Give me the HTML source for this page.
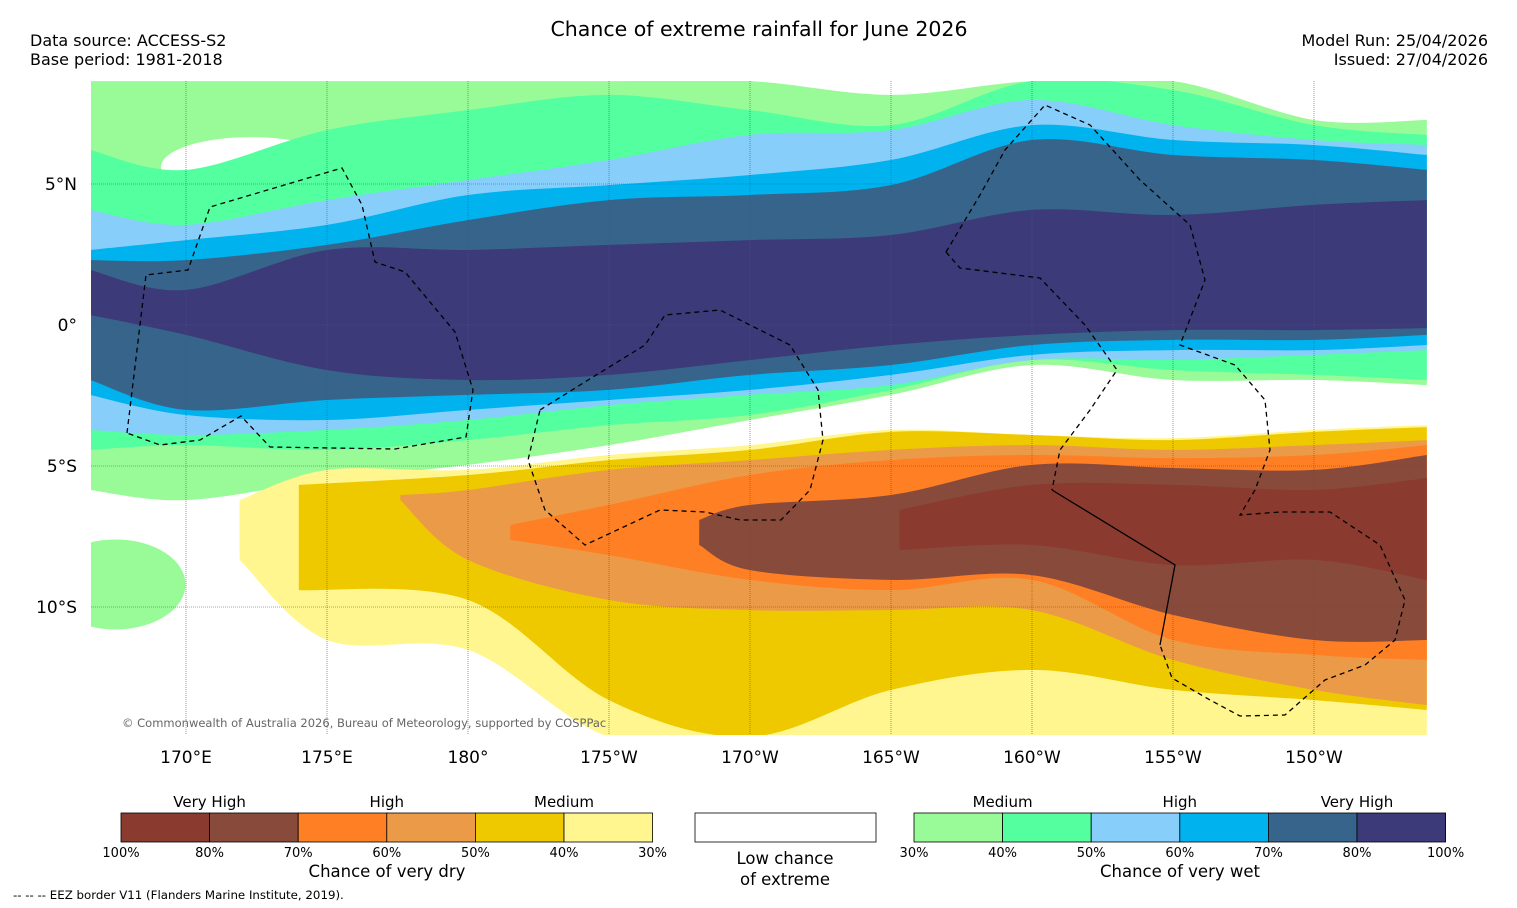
<!DOCTYPE html>
<html><head><meta charset="utf-8"><style>
body{margin:0;background:#fff;width:1517px;height:908px;overflow:hidden;font-family:"DejaVu Sans","Liberation Sans",sans-serif;}
svg{position:absolute;left:0;top:0}
</style></head><body>
<svg id="c" width="1517" height="908" font-family="DejaVu Sans, Liberation Sans, sans-serif">
<text x="759" y="36" text-anchor="middle" font-size="20.5">Chance of extreme rainfall for June 2026</text>
<text x="30" y="46" font-size="16">Data source: ACCESS-S2</text>
<text x="30" y="65" font-size="16">Base period: 1981-2018</text>
<text x="1488" y="46" font-size="16" text-anchor="end">Model Run: 25/04/2026</text>
<text x="1488" y="65" font-size="16" text-anchor="end">Issued: 27/04/2026</text>
<defs><clipPath id="mc"><rect x="91" y="81" width="1336" height="654"/></clipPath></defs>
<g id="map" clip-path="url(#mc)"><rect x="91" y="81" width="1336" height="654" fill="#fff"/></g>
<g id="grid"></g>
<g id="eez" fill="none" stroke="#000" stroke-width="1.3" stroke-dasharray="5,4">
<path d="M127,433 L146,275 L188,270 L210,207 L342,168 L362,205 L375,262 L405,272 L455,332 L473,390 L466,437 L395,449 L270,447 L241,416 L200,440 L160,445 Z"/>
<path d="M540,410 L580,385 L645,345 L665,315 L720,310 L790,345 L818,390 L823,440 L810,490 L781,520 L740,520 L705,512 L660,510 L585,545 L545,510 L528,460 Z"/>
<path d="M946,252 L980,195 L1005,150 L1045,105 L1090,125 L1140,180 L1190,225 L1205,280 L1180,345 L1235,365 L1265,400 L1270,450 L1255,490 L1240,515 L1280,512 L1330,512 L1380,545 L1405,600 L1395,640 L1365,665 L1325,680 L1285,715 L1240,716 L1210,700 L1172,678 L1160,645"/>
<path d="M946,252 L960,268 L1040,278 L1085,325 L1117,370 L1090,410 L1060,450 L1052,490"/>
<path d="M1052,490 L1175,565 L1160,645" stroke-dasharray="none"/>
</g>
<text x="122" y="727" font-size="11.5" fill="#666">© Commonwealth of Australia 2026, Bureau of Meteorology, supported by COSPPac</text>
<g id="axes" font-size="17"></g>
<g id="legend" font-size="14"></g>
<text x="387" y="877" text-anchor="middle" font-size="16.5">Chance of very dry</text>
<text x="785" y="864" text-anchor="middle" font-size="16.5">Low chance</text>
<text x="785" y="885" text-anchor="middle" font-size="16.5">of extreme</text>
<text x="1180" y="877" text-anchor="middle" font-size="16.5">Chance of very wet</text>
<text x="13" y="899" font-size="11.8">--  --  -- EEZ border V11 (Flanders Marine Institute, 2019).</text>
</svg>
<script>
const wetLons=[166.6,170,175,180,185,190,195,200,205,210,214];
const greenTop=[8.65,8.65,8.65,8.65,8.65,8.65,8.16,8.65,8.65,7.27,7.27];
const greenBot=[-5.85,-6.21,-5.50,-4.96,-4.26,-3.37,-2.48,-1.42,-1.95,-1.95,-2.13];
const tealTop=[6.21,5.50,6.91,7.62,8.16,7.62,7.09,8.65,8.33,7.09,6.74];
const tealBot=[-4.43,-4.26,-4.43,-4.08,-3.55,-3.19,-2.30,-1.24,-1.60,-1.77,-1.95];
const lblueTop=[4.08,3.55,4.43,5.14,5.85,6.74,6.91,7.98,7.09,6.56,6.38];
const lblueBot=[-3.72,-3.90,-3.72,-3.37,-2.84,-2.48,-2.13,-1.24,-1.24,-1.06,-0.89];
const cyanTop=[2.66,3.01,3.55,4.61,4.96,5.32,5.85,7.09,6.56,6.38,6.03];
const cyanBot=[-2.48,-3.19,-3.37,-3.01,-2.66,-2.30,-1.77,-1.06,-0.89,-0.89,-0.71];
const steelTop=[2.30,2.30,2.84,3.72,4.43,4.61,4.96,6.56,6.03,5.85,5.50];
const steelBot=[-1.95,-3.01,-2.66,-2.48,-2.30,-1.77,-1.42,-0.71,-0.53,-0.53,-0.35];
const navyTop=[1.95,1.24,2.66,2.66,2.84,3.01,3.19,4.08,3.90,4.26,4.43];
const navyBot=[0.35,-0.35,-1.60,-1.95,-1.77,-1.24,-0.71,-0.35,-0.18,-0.18,-0.11];
const yelLons=[171.9,175,180,185,190,195,200,205,210,214];
const yelTop=[-6.21,-5.14,-5.14,-4.61,-4.26,-3.72,-3.90,-4.01,-3.72,-3.55];
const yelBot=[-8.33,-11.17,-11.52,-14.6,-14.6,-14.6,-14.6,-14.6,-14.6,-14.6];
const goldLons=[174.0,180,185,190,195,200,205,210,214];
const goldTop=[-5.67,-5.32,-4.79,-4.43,-3.79,-3.90,-4.08,-3.79,-3.62];
const goldBot=[-9.40,-9.75,-13.30,-14.6,-12.94,-12.23,-12.94,-13.30,-13.65];
const lorLons=[177.6,180,185,190,195,200,205,210,214];
const lorTop=[-6.03,-5.85,-5.14,-4.79,-4.43,-4.26,-4.43,-4.26,-4.08];
const lorBot=[-6.21,-8.33,-9.75,-10.11,-10.11,-10.11,-11.88,-12.94,-13.48];
const orLons=[181.5,185,190,195,200,205,210,214];
const orTop=[-7.09,-6.38,-5.32,-4.79,-4.61,-4.72,-4.61,-4.26];
const orBot=[-7.62,-8.16,-9.04,-9.40,-9.04,-11.17,-11.70,-11.88];
const brLons=[188.2,190,195,200,205,210,214];
const brTop=[-6.91,-6.38,-6.03,-4.96,-5.07,-5.14,-4.61];
const brBot=[-7.80,-8.69,-9.04,-8.87,-10.28,-11.17,-11.17];
const dbLons=[195.3,200,205,210,214];
const dbTop=[-6.56,-5.67,-5.67,-5.85,-5.43];
const dbBot=[-7.98,-7.80,-8.51,-8.33,-9.04];
const lonTicks=[170,175,180,185,190,195,200,205,210];
const lonLabels=["170°E","175°E","180°","175°W","170°W","165°W","160°W","155°W","150°W"];
const latTicks=[5,0,-5,-10];
const latLabels=["5°N","0°","5°S","10°S"];
const dryColors=["#8b3a2f","#884a3b","#ff7f24","#eb9a48","#eec900","#fff68f"];
const dryTicks=["100%","80%","70%","60%","50%","40%","30%"];
const wetColors=["#98fb98","#54ff9f","#87cefa","#00b2ee","#36648b","#3c3a78"];
const wetTicks=["30%","40%","50%","60%","70%","80%","100%"];
const catLabels=["Very High","High","Medium"];

const X=lon=>186+(lon-170)*28.2;
const Y=lat=>325-lat*28.2;
const NS="http://www.w3.org/2000/svg";
function mk(t,a,p){const e=document.createElementNS(NS,t);for(const k in a)e.setAttribute(k,a[k]);p.appendChild(e);return e;}
function curve(pts){let d="";for(let i=0;i<pts.length-1;i++){const p0=pts[Math.max(0,i-1)],p1=pts[i],p2=pts[i+1],p3=pts[Math.min(pts.length-1,i+2)];
const c1=[p1[0]+(p2[0]-p0[0])/6,p1[1]+(p2[1]-p0[1])/6],c2=[p2[0]-(p3[0]-p1[0])/6,p2[1]-(p3[1]-p1[1])/6];
d+=" C"+c1[0].toFixed(1)+","+c1[1].toFixed(1)+" "+c2[0].toFixed(1)+","+c2[1].toFixed(1)+" "+p2[0].toFixed(1)+","+p2[1].toFixed(1);}return d;}
const map=document.getElementById('map');
function band(lons,top,bot,color,name){
 const t=lons.map((l,i)=>[X(l),Y(top[i])]),b=lons.map((l,i)=>[X(l),Y(bot[i])]).reverse();
 let d="M"+t[0][0]+","+t[0][1]+curve(t)+" L"+b[0][0]+","+b[0][1]+curve(b)+" Z";
 const p=mk('path',{d:d,fill:color},map);
 
 
}
band(wetLons,greenTop,greenBot,wetColors[0],'wet-30-40-band');
const blob=mk('ellipse',{cx:X(167.5),cy:Y(-9.2),rx:70,ry:45,fill:wetColors[0]},map);


const wp=mk('ellipse',{cx:X(172.3),cy:Y(5.6),rx:90,ry:30,fill:'#fff'},map);


band(wetLons,tealTop,tealBot,wetColors[1],'wet-40-50-band');
band(wetLons,lblueTop,lblueBot,wetColors[2],'wet-50-60-band');
band(wetLons,cyanTop,cyanBot,wetColors[3],'wet-60-70-band');
band(wetLons,steelTop,steelBot,wetColors[4],'wet-70-80-band');
band(wetLons,navyTop,navyBot,wetColors[5],'wet-80-100-band');
band(yelLons,yelTop,yelBot,dryColors[5],'dry-30-40-band');
band(goldLons,goldTop,goldBot,dryColors[4],'dry-40-50-band');
band(lorLons,lorTop,lorBot,dryColors[3],'dry-50-60-band');
band(orLons,orTop,orBot,dryColors[2],'dry-60-70-band');
band(brLons,brTop,brBot,dryColors[1],'dry-70-80-band');
band(dbLons,dbTop,dbBot,dryColors[0],'dry-80-100-band');

const grid=document.getElementById('grid'),axes=document.getElementById('axes');
lonTicks.forEach((l,i)=>{
 const g=mk('line',{x1:X(l),x2:X(l),y1:81,y2:735,stroke:'#555','stroke-width':0.6,'stroke-dasharray':'1,1'},grid);
 
 
 const t=mk('text',{x:X(l),y:763,'text-anchor':'middle'},axes);t.textContent=lonLabels[i];
 
 
});
latTicks.forEach((l,i)=>{
 const g=mk('line',{x1:91,x2:1427,y1:Y(l),y2:Y(l),stroke:'#555','stroke-width':0.6,'stroke-dasharray':'1,1'},grid);
 
 
 const t=mk('text',{x:77,y:Y(l)+6,'text-anchor':'end'},axes);t.textContent=latLabels[i];
 
 
});
const leg=document.getElementById('legend');
function bar(x0,colors,ticks,cats,catPos,nm){
 const w=88.6;
 colors.forEach((c,i)=>{const r=mk('rect',{x:x0+i*w,y:813,width:w,height:29,fill:c,stroke:'#000','stroke-width':0.8},leg);
  
  });
 ticks.forEach((t,i)=>{const e=mk('text',{x:x0+i*w,y:857,'text-anchor':'middle','font-size':13},leg);e.textContent=t;
  
  });
 cats.forEach((t,i)=>{const e=mk('text',{x:x0+catPos[i]*w,y:807,'text-anchor':'middle','font-size':15},leg);e.textContent=t;
  
  });
}
bar(121,dryColors,dryTicks,catLabels,[1,3,5],'dry-legend');
bar(914,wetColors,wetTicks,catLabels.slice().reverse(),[1,3,5],'wet-legend');
const wb=mk('rect',{x:695,y:813,width:181,height:29,fill:'#fff',stroke:'#000','stroke-width':0.8},leg);


</script>
</body></html>
